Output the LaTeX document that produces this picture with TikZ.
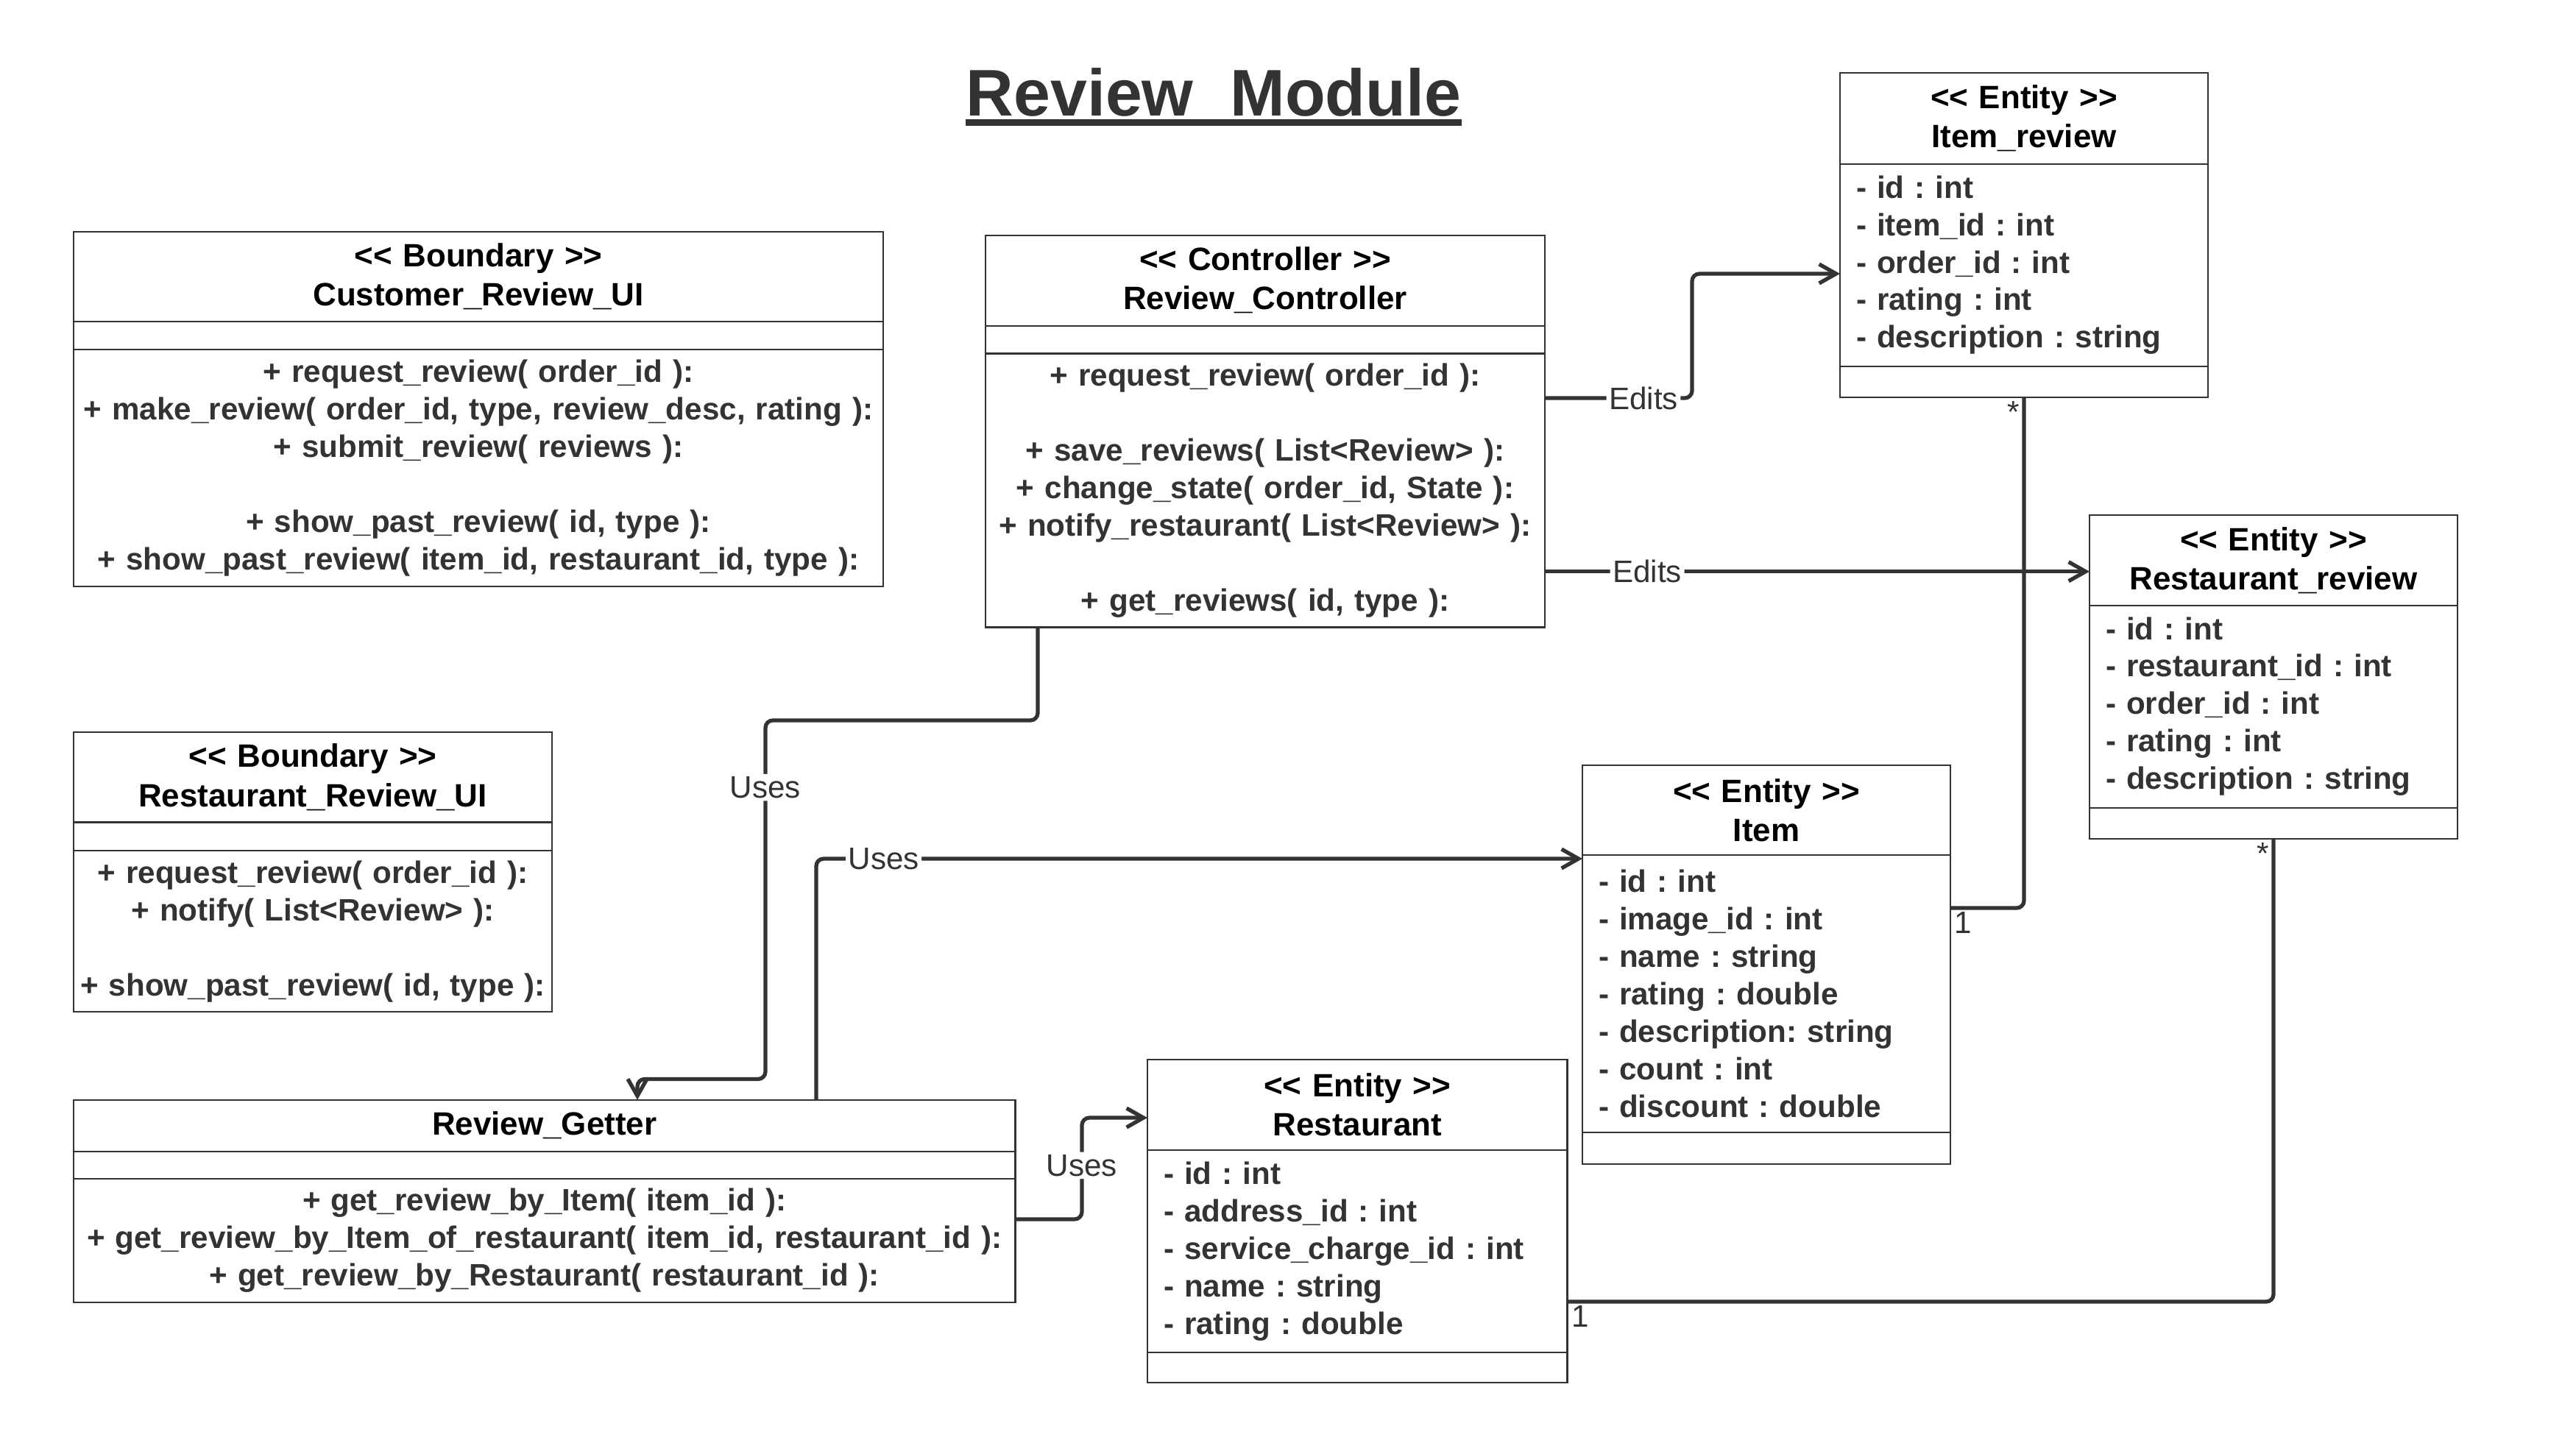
\documentclass[tikz,border=0pt]{standalone}
\usepackage{fontspec}
\setmainfont{Liberation Sans}[Ligatures=TeXOff]
\usetikzlibrary{positioning}
\usetikzlibrary{arrows.meta}
\usetikzlibrary{calc}
\frenchspacing
\colorlet{mygray}{black!80}
\newcommand\myheadfont{\fontsize{12.5}{15.1}\selectfont\bfseries}
\newcommand\mybodyfont{\fontsize{12}{14.5}\selectfont\bfseries}
\newcommand\mylabelfont{\fontsize{12}{14.5}\selectfont}
\tikzstyle{myhead}=[draw=mygray,line width=0.6pt,inner sep=0pt,outer sep=0pt,
                    align=center,text=black,font=\myheadfont]
\tikzstyle{mymethods}=[myhead,text=mygray,font=\mybodyfont]
\tikzstyle{myattrs}=[mymethods,align=left,inner xsep=0.22cm]
\tikzstyle{myline}=[mygray,line width=1.5pt,rounded corners=0.1cm]
\tikzstyle{myarrow}=[myline,-{Straight Barb[length=2.3mm,width=2.6mm]}]
\tikzstyle{mylabel}=[fill=white,inner sep=1pt,text=mygray,font=\mylabelfont]
\tikzstyle{mymult}=[inner sep=0.05cm,text=mygray,font=\mylabelfont]

\begin{document}
\begin{tikzpicture}
  \useasboundingbox[fill=white] (0,0) rectangle (35,-19.56);

  % TITLE
  \node[inner sep=0pt,anchor=base,text=mygray,font=\fontsize{25.5}{30}\selectfont\bfseries]
    (title) at (16.49,-1.57) {Review\ \ Module};
  \draw[mygray,line width=0.09cm] ([yshift=-0.095cm]title.base west) -- ([yshift=-0.095cm]title.base east);

  % Customer_Review_UI
  \node[myhead,text width=11cm,minimum height=1.228cm,anchor=north west] (cui) at (1,-3.146) {
    << Boundary >>\\Customer\_Review\_UI
  };
  \node[myhead,text width=11cm,minimum height=0.379cm,below=0pt of cui] (cui-a) {};
  \node[mymethods,text width=11cm,minimum height=3.215cm,below=0pt of cui-a] (cui-m) {
    + request\_review( order\_id ):\\
    + make\_review( order\_id, type, review\_desc, rating ):\\
    + submit\_review( reviews ):\\[\baselineskip]
    + show\_past\_review( id, type ):\\
    + show\_past\_review( item\_id, restaurant\_id, type ):
  };

  % Review_Controller
  \node[myhead,text width=7.6cm,minimum height=1.229cm,anchor=north west] (ctrl) at (13.39,-3.197) {
    << Controller >>\\Review\_Controller
  };
  \node[myhead,text width=7.6cm,minimum height=0.379cm,below=0pt of ctrl] (ctrl-a) {};
  \node[mymethods,text width=7.6cm,minimum height=3.72cm,below=0pt of ctrl-a] (ctrl-m) {
    + request\_review( order\_id ):\\[\baselineskip]
    + save\_reviews( List<Review> ):\\
    + change\_state( order\_id, State ):\\
    + notify\_restaurant( List<Review> ):\\[\baselineskip]
    + get\_reviews( id, type ):
  };

  % Item_review
  \node[myhead,text width=5cm,minimum height=1.234cm,anchor=north west] (irev) at (25,-0.993) {
    << Entity >>\\Item\_review
  };
  \node[myattrs,text width=4.56cm,minimum height=2.75cm,below=0pt of irev] (irev-a) {
    - id : int\\
    - item\_id : int\\
    - order\_id : int\\
    - rating : int\\
    - description : string
  };
  \node[myhead,text width=5cm,minimum height=0.425cm,below=0pt of irev-a] (irev-m) {};

  % Restaurant_review
  \node[myhead,text width=5cm,minimum height=1.226cm,anchor=north west] (rrev) at (28.39,-7.0) {
    << Entity >>\\Restaurant\_review
  };
  \node[myattrs,text width=4.56cm,minimum height=2.75cm,below=0pt of rrev] (rrev-a) {
    - id : int\\
    - restaurant\_id : int\\
    - order\_id : int\\
    - rating : int\\
    - description : string
  };
  \node[myhead,text width=5cm,minimum height=0.424cm,below=0pt of rrev-a] (rrev-m) {};

  % Restaurant_Review_UI
  \node[myhead,text width=6.5cm,minimum height=1.225cm,anchor=north west] (rui) at (1,-9.95) {
    << Boundary >>\\Restaurant\_Review\_UI
  };
  \node[myhead,text width=6.5cm,minimum height=0.385cm,below=0pt of rui] (rui-a) {};
  \node[mymethods,text width=6.5cm,minimum height=2.194cm,below=0pt of rui-a] (rui-m) {
    + request\_review( order\_id ):\\
    + notify( List<Review> ):\\[\baselineskip]
    + show\_past\_review( id, type ):
  };

  % Item
  \node[myhead,text width=5cm,minimum height=1.226cm,anchor=north west] (item) at (21.5,-10.398) {
    << Entity >>\\Item
  };
  \node[myattrs,text width=4.56cm,minimum height=3.766cm,below=0pt of item] (item-a) {
    - id : int\\
    - image\_id : int\\
    - name : string\\
    - rating : double\\
    - description: string\\
    - count : int\\
    - discount : double
  };
  \node[myhead,text width=5cm,minimum height=0.43cm,below=0pt of item-a] (item-m) {};

  % Review_Getter
  \node[myhead,text width=12.795cm,minimum height=0.699cm,anchor=north west] (getter) at (1,-14.947) {
    Review\_Getter
  };
  \node[myhead,text width=12.795cm,minimum height=0.373cm,below=0pt of getter] (getter-a) {};
  \node[mymethods,text width=12.795cm,minimum height=1.681cm,below=0pt of getter-a] (getter-m) {
    + get\_review\_by\_Item( item\_id ):\\
    + get\_review\_by\_Item\_of\_restaurant( item\_id, restaurant\_id ):\\
    + get\_review\_by\_Restaurant( restaurant\_id ):
  };

  % Restaurant
  \node[myhead,text width=5.705cm,minimum height=1.227cm,anchor=north west] (rest) at (15.59,-14.40) {
    << Entity >>\\Restaurant
  };
  \node[myattrs,text width=5.265cm,minimum height=2.753cm,below=0pt of rest] (rest-a) {
    - id : int\\
    - address\_id : int\\
    - service\_charge\_id : int\\
    - name : string\\
    - rating : double
  };
  \node[myhead,text width=5.705cm,minimum height=0.41cm,below=0pt of rest-a] (rest-m) {};

  % EDITS
  \draw[myarrow] ($(ctrl-m.north east)+(0,-0.605)$) -- node[mylabel,pos=0.67] (edits-1) {Edits}
    ++(2,0) |- ($(irev-a.west)+(0,-0.118)$);
  \coordinate (rrev-in) at ($(rrev.west)+(0,-0.154)$);
  \draw[myarrow] (ctrl-m.east |- rrev-in) -- node[mylabel,pos=0.188] (edits-2) {Edits} (rrev-in);

  % USES
  \draw[myarrow] ($(ctrl-m.south west)+(0.71,0)$) -- ++(0,-1.265) -- ++(-3.7,0)
    -- node[mylabel,pos=0.187] (uses-1) {Uses} ++(0,-4.875) -| ($(getter.north west)+(7.66,0)$);
  \draw[myarrow] ($(getter.north west)+(10.09,0)$) |- node[mylabel,pos=0.544] (uses-2) {Uses}
    ($(item-a.north west)+(0,-0.046)$);
  \draw[myarrow] ($(getter-m.north east)+(0,-0.551)$) -- ++(0.905,0) |- node[mylabel,pos=0.265] (uses-3) {Uses}
    ($(rest.west)+(0,-0.177)$);

  % ASSOCIATIONS
  \coordinate (item-out) at ($(item-a.north east)+(0,-0.716)$);
  \draw[myline] (item-out) -| (irev-m.south);
  \node[mymult,anchor=north west] (item-one) at (item-out) {1};
  \node[mymult,anchor=north east] (irev-many) at (irev-m.south) {*};

  \coordinate (rest-out) at ($(rest-a.north east)+(0,-2.063)$);
  \draw[myline] (rest-out) -| (rrev-m.south);
  \node[mymult,anchor=north west] (rest-one) at (rest-out) {1};
  \node[mymult,anchor=north east] (rrev-many) at (rrev-m.south) {*};

\end{tikzpicture}
\end{document}
